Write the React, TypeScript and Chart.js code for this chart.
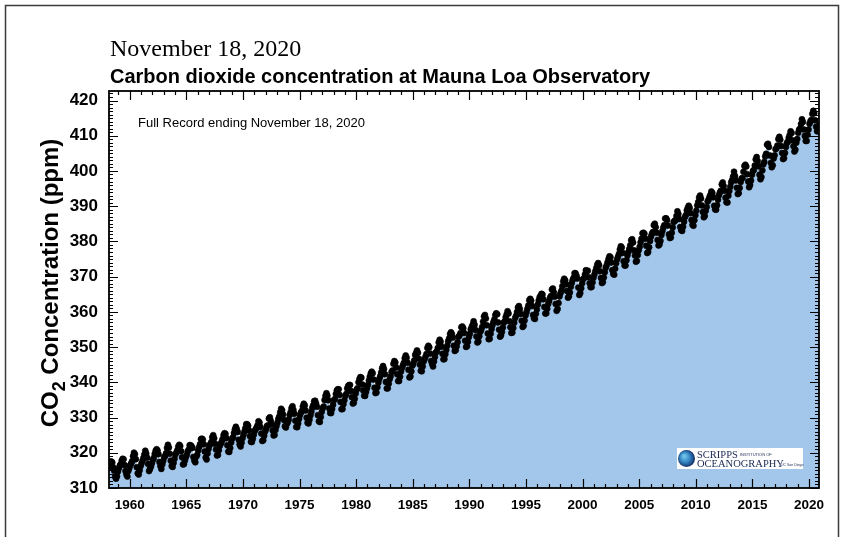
import React, { useEffect, useRef } from "react";
import { Chart, registerables } from "chart.js";

Chart.register(...registerables);

// Monthly mean CO2 (ppm) at Mauna Loa, March 1958 onward
const co2_1958_1959 = [
  315.70, 317.45, 317.51, 317.24, 315.86, 314.93, 313.20, 312.66, 313.33, 314.67,
  315.62, 316.38, 316.71, 317.72, 318.29, 318.15, 316.54, 314.80, 313.84, 313.26, 314.80, 315.58,
];
const co2_1960s = [
  316.43, 316.97, 317.58, 319.02, 320.03, 319.59, 318.18, 315.91, 314.16, 313.83, 315.00, 316.19,
  316.93, 317.70, 318.54, 319.48, 320.58, 319.77, 318.57, 316.79, 314.80, 315.38, 316.10, 317.01,
  317.94, 318.55, 319.68, 320.57, 321.02, 320.62, 319.61, 317.40, 316.25, 315.42, 316.69, 317.70,
  318.74, 319.07, 319.86, 321.38, 322.25, 321.48, 319.74, 317.77, 316.21, 315.99, 317.12, 318.31,
  319.57, 320.07, 320.73, 321.77, 322.25, 321.89, 320.44, 318.70, 316.70, 316.79, 317.79, 318.71,
  319.44, 320.44, 320.89, 322.13, 322.16, 321.87, 321.39, 318.81, 317.81, 317.30, 318.87, 319.42,
  320.62, 321.59, 322.39, 323.87, 324.01, 323.75, 322.39, 320.37, 318.64, 318.10, 319.79, 321.08,
  322.07, 322.50, 323.04, 324.42, 325.00, 324.09, 322.54, 320.92, 319.25, 319.39, 320.73, 321.96,
  322.57, 323.15, 323.89, 325.02, 325.57, 325.36, 324.14, 322.11, 320.33, 320.25, 321.32, 322.90,
  324.00, 324.42, 325.64, 326.66, 327.38, 326.70, 325.89, 323.67, 322.38, 321.78, 322.85, 324.12,
];
const co2_1970s = [
  325.06, 325.98, 326.93, 328.13, 328.07, 327.66, 326.35, 324.69, 323.10, 323.07, 324.01, 325.13,
  326.17, 326.68, 327.18, 327.78, 328.92, 328.57, 327.34, 325.46, 323.36, 323.57, 324.80, 326.01,
  326.77, 327.63, 327.75, 329.72, 330.07, 329.09, 328.05, 326.32, 324.93, 325.06, 326.50, 327.55,
  328.54, 329.56, 330.30, 331.50, 332.48, 332.07, 330.87, 329.31, 327.51, 327.18, 328.16, 328.64,
  329.35, 330.71, 331.48, 332.65, 333.20, 332.16, 331.07, 329.12, 327.32, 327.28, 328.30, 329.58,
  330.73, 331.46, 331.90, 333.17, 333.94, 333.45, 331.98, 329.95, 328.50, 328.34, 329.37, 330.58,
  331.59, 332.75, 333.52, 334.64, 334.77, 334.00, 333.06, 330.68, 328.95, 328.75, 330.15, 331.62,
  332.66, 333.13, 334.95, 336.13, 336.93, 336.17, 334.88, 332.56, 331.29, 331.27, 332.41, 333.60,
  334.95, 335.25, 336.66, 337.69, 338.03, 338.01, 336.41, 334.41, 332.37, 332.41, 333.75, 334.90,
  336.14, 336.69, 338.27, 338.96, 339.21, 339.26, 337.54, 335.75, 333.98, 334.19, 335.31, 336.81,
];
const co2_1980s = [
  337.90, 338.34, 340.01, 340.93, 341.48, 341.33, 339.40, 337.70, 336.19, 336.15, 337.27, 338.32,
  339.29, 340.55, 341.61, 342.53, 343.03, 342.54, 340.78, 338.44, 336.95, 337.08, 338.58, 339.88,
  340.96, 341.73, 342.81, 343.97, 344.63, 343.79, 342.32, 340.09, 338.28, 338.29, 339.60, 340.90,
  341.68, 342.90, 343.33, 345.25, 346.03, 345.63, 344.19, 342.27, 340.35, 340.38, 341.59, 343.05,
  344.10, 344.79, 345.52, 346.84, 347.63, 346.98, 345.53, 343.55, 341.40, 341.67, 343.10, 344.70,
  345.21, 346.16, 347.74, 348.34, 349.06, 348.38, 346.72, 345.02, 343.27, 343.13, 344.49, 345.88,
  346.56, 347.28, 348.01, 349.77, 350.38, 349.93, 348.16, 346.08, 345.22, 344.51, 345.93, 347.21,
  348.52, 348.73, 349.73, 351.31, 352.09, 351.53, 350.11, 348.08, 346.52, 346.59, 347.96, 349.16,
  350.39, 351.64, 352.41, 353.69, 354.21, 353.72, 352.69, 350.40, 348.92, 349.13, 350.20, 351.41,
  352.91, 353.27, 353.96, 355.64, 355.86, 355.37, 353.99, 351.81, 350.05, 350.25, 351.49, 352.85,
];
const co2_1990s = [
  353.80, 355.04, 355.73, 356.32, 357.32, 356.34, 354.84, 353.01, 351.31, 351.62, 353.07, 354.33,
  354.84, 355.73, 357.23, 358.66, 359.13, 358.13, 356.19, 353.85, 352.25, 352.35, 353.81, 355.12,
  356.25, 357.11, 357.86, 359.09, 359.59, 359.33, 357.01, 354.94, 352.96, 353.32, 354.32, 355.57,
  357.00, 357.31, 358.47, 359.27, 360.19, 359.52, 357.33, 355.64, 354.03, 354.12, 355.41, 356.91,
  358.24, 358.92, 359.99, 361.23, 361.65, 360.81, 359.38, 357.46, 355.73, 356.08, 357.53, 358.98,
  359.92, 360.86, 361.83, 363.30, 363.69, 363.19, 361.64, 359.12, 358.17, 357.99, 359.45, 360.68,
  362.07, 363.24, 364.17, 364.57, 365.13, 364.92, 363.55, 361.38, 359.54, 359.58, 360.89, 362.24,
  363.09, 364.03, 364.51, 366.35, 366.64, 365.59, 364.31, 362.25, 360.29, 360.82, 362.49, 364.38,
  365.26, 365.98, 367.24, 368.66, 369.42, 368.99, 367.82, 365.95, 364.02, 364.40, 365.52, 367.13,
  368.18, 369.07, 369.68, 370.99, 370.96, 370.30, 369.45, 366.90, 364.81, 365.37, 366.72, 368.10,
];
const co2_2000s = [
  369.29, 369.54, 370.60, 371.82, 371.58, 371.70, 369.86, 368.13, 367.00, 367.03, 368.37, 369.67,
  370.59, 371.51, 372.43, 373.37, 373.85, 373.22, 371.50, 369.61, 368.18, 368.45, 369.76, 371.24,
  372.53, 373.20, 374.12, 375.02, 375.76, 375.52, 374.01, 371.85, 370.75, 370.55, 372.25, 373.79,
  374.88, 375.64, 376.45, 377.73, 378.60, 378.28, 376.70, 374.38, 373.17, 373.15, 374.66, 375.99,
  377.00, 377.87, 378.88, 380.35, 380.62, 379.69, 377.47, 376.01, 374.25, 374.46, 376.16, 377.51,
  378.46, 379.73, 380.77, 382.29, 382.45, 382.21, 380.74, 378.74, 376.70, 377.00, 378.35, 380.11,
  381.38, 382.19, 382.67, 384.61, 385.03, 384.05, 382.46, 380.41, 378.85, 379.13, 380.15, 381.82,
  382.89, 383.90, 384.58, 386.50, 386.56, 386.10, 384.50, 381.99, 380.96, 381.12, 382.45, 383.95,
  385.52, 385.82, 386.03, 387.21, 388.54, 387.76, 386.36, 384.09, 383.18, 382.99, 384.19, 385.56,
  386.94, 387.48, 388.82, 389.55, 390.14, 389.48, 388.03, 386.11, 384.74, 384.43, 386.02, 387.42,
];
const co2_2010s = [
  388.71, 390.20, 391.17, 392.46, 393.00, 392.15, 390.20, 388.35, 386.85, 387.24, 388.67, 389.79,
  391.33, 391.86, 392.60, 393.25, 394.19, 393.74, 392.51, 390.13, 389.08, 389.00, 390.28, 391.86,
  393.12, 393.86, 394.40, 396.18, 396.74, 395.71, 394.36, 392.39, 391.11, 391.05, 392.98, 394.34,
  395.55, 396.80, 397.43, 398.41, 399.78, 398.60, 397.32, 395.20, 393.45, 393.70, 395.16, 396.84,
  397.85, 398.01, 399.77, 401.38, 401.78, 401.25, 399.10, 397.03, 395.38, 396.03, 397.28, 398.91,
  399.98, 400.28, 401.54, 403.28, 403.96, 402.80, 401.31, 398.93, 397.63, 398.29, 400.16, 401.85,
  402.56, 404.12, 404.87, 407.45, 407.72, 406.83, 404.41, 402.27, 401.05, 401.59, 403.55, 404.45,
  406.17, 406.46, 407.22, 409.04, 409.69, 408.88, 407.12, 405.13, 403.37, 403.63, 405.12, 406.81,
  407.96, 408.32, 409.41, 410.24, 411.24, 410.79, 408.71, 406.99, 405.51, 406.00, 408.02, 409.07,
  410.83, 411.75, 411.97, 413.32, 414.66, 413.92, 411.77, 409.95, 408.54, 408.53, 410.27, 411.76,
];
const co2_2020 = [
  413.39, 414.11, 414.50, 416.21, 417.07, 416.39, 414.38, 412.55, 411.29, 411.28, 412.90,
];

// Each block: first year, first month index (0 = January), monthly values
const co2Blocks: [number, number, number[]][] = [
  [1958, 2, co2_1958_1959],
  [1960, 0, co2_1960s],
  [1970, 0, co2_1970s],
  [1980, 0, co2_1980s],
  [1990, 0, co2_1990s],
  [2000, 0, co2_2000s],
  [2010, 0, co2_2010s],
  [2020, 0, co2_2020],
];

const xTickYears = [1960, 1965, 1970, 1975, 1980, 1985, 1990, 1995, 2000, 2005, 2010, 2015, 2020];
const yTickValues = [310, 320, 330, 340, 350, 360, 370, 380, 390, 400, 410, 420];

const X_MIN = 1958.17;
const X_MAX = 2020.88;
const Y_MIN = 310;
const Y_MAX = 422.7;

const TITLE_DATE = "November 18, 2020";
const TITLE = "Carbon dioxide concentration at Mauna Loa Observatory";
const NOTE = "Full Record ending November 18, 2020";

const SANS = "'Liberation Sans', Arial, Helvetica, sans-serif";
const SERIF = "'Liberation Serif', 'Times New Roman', serif";
const FILL = "#a3c7ea";

function buildPoints() {
  const pts: { x: number; y: number }[] = [];
  for (const [year, month0, values] of co2Blocks) {
    values.forEach((v, i) => {
      const m = month0 + i;
      pts.push({ x: year + Math.floor(m / 12) + ((m % 12) + 0.5) / 12, y: v });
    });
  }
  return pts;
}

// Inward tick marks on all four sides plus the plot frame
const frameTicks = {
  id: "frameTicks",
  afterDatasetsDraw(chart: any) {
    const { ctx, chartArea: a, scales } = chart;
    const x = scales.x;
    const y = scales.y;
    ctx.save();
    ctx.strokeStyle = "#000";
    ctx.lineWidth = 1.2;
    ctx.beginPath();
    for (let yr = Math.ceil(x.min); yr <= x.max; yr++) {
      const px = Math.round(x.getPixelForValue(yr)) + 0.5;
      const len = yr % 5 === 0 ? 9 : 4;
      ctx.moveTo(px, a.bottom);
      ctx.lineTo(px, a.bottom - len);
      ctx.moveTo(px, a.top);
      ctx.lineTo(px, a.top + len);
    }
    for (let v = Math.ceil(y.min); v <= y.max; v++) {
      const py = Math.round(y.getPixelForValue(v)) + 0.5;
      const len = v % 10 === 0 ? 9 : 4;
      ctx.moveTo(a.left, py);
      ctx.lineTo(a.left + len, py);
      ctx.moveTo(a.right, py);
      ctx.lineTo(a.right - len, py);
    }
    ctx.stroke();
    ctx.lineWidth = 1.8;
    ctx.strokeRect(a.left, a.top, a.right - a.left, a.bottom - a.top);
    ctx.restore();
  },
};

// Titles, note, axis title, logo block and outer frame
const annotations = {
  id: "annotations",
  afterDraw(chart: any) {
    const { ctx } = chart;
    ctx.save();

    // outer frame
    ctx.strokeStyle = "#3a3a3a";
    ctx.lineWidth = 1.5;
    ctx.beginPath();
    ctx.moveTo(5.5, 537);
    ctx.lineTo(5.5, 5.5);
    ctx.lineTo(838.5, 5.5);
    ctx.lineTo(838.5, 537);
    ctx.stroke();

    ctx.fillStyle = "#000";
    ctx.textBaseline = "alphabetic";
    ctx.textAlign = "left";
    ctx.font = `24px ${SERIF}`;
    ctx.fillText(TITLE_DATE, 110, 56);
    ctx.font = `bold 20px ${SANS}`;
    ctx.fillText(TITLE, 110, 83);
    ctx.font = `13px ${SANS}`;
    ctx.fillText(NOTE, 138, 127);

    // rotated y-axis title with subscript
    ctx.save();
    ctx.translate(58, 283);
    ctx.rotate(-Math.PI / 2);
    const big = `bold 24px ${SANS}`;
    const small = `bold 18px ${SANS}`;
    ctx.font = big;
    const wCO = ctx.measureText("CO").width;
    const wRest = ctx.measureText(" Concentration (ppm)").width;
    ctx.font = small;
    const w2 = ctx.measureText("2").width;
    let cx = -(wCO + w2 + wRest) / 2;
    ctx.font = big;
    ctx.fillText("CO", cx, 0);
    cx += wCO;
    ctx.font = small;
    ctx.fillText("2", cx, 7);
    cx += w2;
    ctx.font = big;
    ctx.fillText(" Concentration (ppm)", cx, 0);
    ctx.restore();

    // Scripps logo block
    ctx.fillStyle = "#ffffff";
    ctx.fillRect(677, 448, 126, 21);
    const g = ctx.createRadialGradient(684, 456, 1, 686, 458.5, 9);
    g.addColorStop(0, "#6fc3e8");
    g.addColorStop(0.55, "#2f7fbf");
    g.addColorStop(1, "#13295e");
    ctx.fillStyle = g;
    ctx.beginPath();
    ctx.arc(686.5, 458.5, 8.5, 0, Math.PI * 2);
    ctx.fill();
    ctx.fillStyle = "#1b2a55";
    ctx.font = `10.5px ${SERIF}`;
    ctx.fillText("SCRIPPS", 697, 458);
    ctx.fillText("OCEANOGRAPHY", 697, 467);
    ctx.font = `4px ${SANS}`;
    ctx.fillText("INSTITUTION OF", 740, 456);
    ctx.font = `3.5px ${SANS}`;
    ctx.fillText("UC San Diego", 781, 466);

    ctx.restore();
  },
};

export default function App() {
  const canvasRef = useRef<HTMLCanvasElement | null>(null);

  useEffect(() => {
    document.body.style.margin = "0";
    const canvas = canvasRef.current;
    if (!canvas) return;
    const points = buildPoints();
    const chart = new Chart(canvas, {
      type: "scatter",
      data: {
        datasets: [
          {
            data: points,
            showLine: true,
            borderWidth: 0,
            borderColor: "rgba(0,0,0,0)",
            backgroundColor: FILL,
            fill: "start",
            tension: 0,
            pointRadius: 3,
            pointBackgroundColor: "#000",
            pointBorderColor: "#000",
            pointBorderWidth: 0.6,
          } as any,
        ],
      },
      options: {
        animation: false,
        responsive: false,
        events: [],
        layout: { padding: { top: 91, right: 23, left: 0, bottom: 0 } },
        plugins: {
          legend: { display: false },
          tooltip: { enabled: false },
          title: { display: false },
        },
        scales: {
          x: {
            type: "linear",
            min: X_MIN,
            max: X_MAX,
            grid: { display: false },
            border: { display: false },
            afterBuildTicks: (s: any) => {
              s.ticks = xTickYears.map((v) => ({ value: v }));
            },
            afterFit: (s: any) => {
              s.height = 49;
            },
            ticks: {
              color: "#000",
              padding: 1,
              maxRotation: 0,
              autoSkip: false,
              font: { family: SANS, weight: "bold", size: 13.5 },
              callback: (v: any) => String(v),
            },
          },
          y: {
            type: "linear",
            min: Y_MIN,
            max: Y_MAX,
            grid: { display: false },
            border: { display: false },
            afterBuildTicks: (s: any) => {
              s.ticks = yTickValues.map((v) => ({ value: v }));
            },
            afterFit: (s: any) => {
              s.width = 109;
            },
            ticks: {
              color: "#000",
              padding: 3,
              autoSkip: false,
              font: { family: SANS, weight: "bold", size: 17 },
              callback: (v: any) => String(v),
            },
          },
        },
      } as any,
      plugins: [frameTicks, annotations],
    });
    return () => chart.destroy();
  }, []);

  return (
    <div style={{ position: "absolute", left: 0, top: 0, width: 842, height: 537, background: "#fff" }}>
      <canvas ref={canvasRef} width={842} height={537} style={{ display: "block" }} />
    </div>
  );
}
